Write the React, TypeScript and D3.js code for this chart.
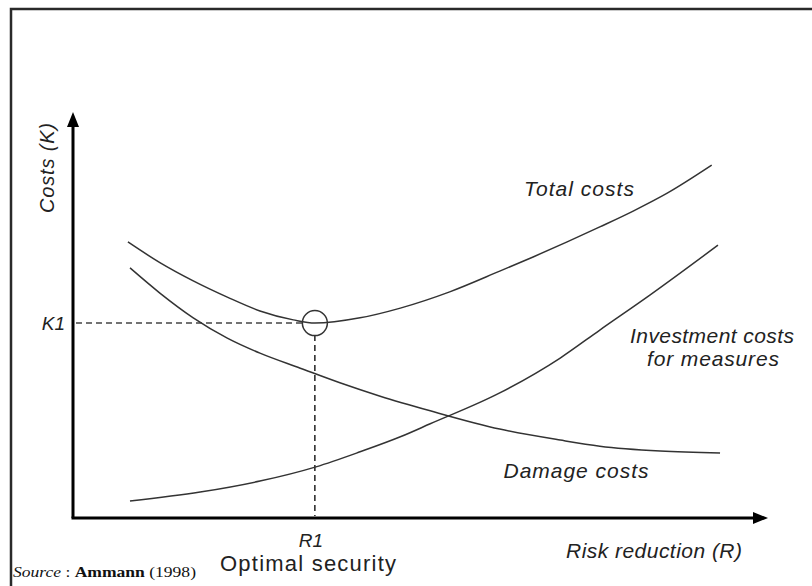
import React from 'react';
import * as d3 from 'd3';

// Curve samples (risk reduction 0-100, costs 0-100)
const totalR = [7.9, 12.5, 17.3, 22.2, 26.9, 31.7, 34.8, 41.3, 47.1, 54.2, 61.4, 66.2, 71.1, 75.8, 80.6, 85.5, 91.9];
const totalK = [68.0, 62.9, 58.4, 54.4, 51.0, 48.8, 48.0, 49.3, 51.7, 55.7, 60.8, 64.3, 68.0, 71.7, 75.6, 80.0, 86.9];

const damageR = [8.2, 12.5, 17.3, 22.2, 26.9, 32.7, 38.4, 44.2, 51.4, 61.4, 70.1, 75.8, 84.5, 93.1];
const damageK = [61.6, 55.4, 49.3, 44.3, 40.6, 36.9, 33.3, 30.0, 26.4, 21.9, 19.2, 17.7, 16.5, 16.0];

const investR = [8.2, 18.3, 26.9, 34.96, 41.3, 47.1, 51.4, 61.4, 70.1, 75.8, 83.0, 92.8];
const investK = [4.2, 6.4, 9.1, 12.6, 16.3, 20.0, 23.2, 30.8, 39.4, 46.3, 54.9, 67.2];

const optimumR = 34.8;
const optimumK = 48.0;

const W = 812;
const H = 586;
const origin = { x: 73, y: 518 };
const xEnd = 768;
const yEnd = 112;

const App: React.FC = () => {
  const x = d3.scaleLinear().domain([0, 100]).range([origin.x, xEnd]);
  const y = d3.scaleLinear().domain([0, 100]).range([origin.y, yEnd]);

  const line = d3.line<[number, number]>()
    .x(d => x(d[0]))
    .y(d => y(d[1]))
    .curve(d3.curveMonotoneX);

  const zip = (a: number[], b: number[]) => a.map((v, i) => [v, b[i]] as [number, number]);

  const ox = x(optimumR);
  const oy = y(optimumK);
  const curveStyle = { fill: 'none', stroke: '#333', strokeWidth: 1.5 };
  const labelFont = "'Liberation Sans', Arial, sans-serif";

  return (
    <svg width={W} height={H} style={{ position: 'absolute', left: 0, top: 0, background: '#fff' }}>
      {/* frame */}
      <path d={`M11,${H} L11,9 L${W},9`} fill="none" stroke="#2a2a2a" strokeWidth={2.5} />

      {/* axes */}
      <line x1={origin.x} y1={origin.y} x2={origin.x} y2={yEnd + 12} stroke="#000" strokeWidth={3} />
      <line x1={origin.x - 1.5} y1={origin.y} x2={xEnd - 12} y2={origin.y} stroke="#000" strokeWidth={3} />
      <path d={`M${origin.x},${yEnd} L${origin.x - 6},${yEnd + 15} L${origin.x + 6},${yEnd + 15} Z`} fill="#000" />
      <path d={`M${xEnd},${origin.y} L${xEnd - 15},${origin.y - 6} L${xEnd - 15},${origin.y + 6} Z`} fill="#000" />

      {/* guides */}
      <line x1={origin.x + 3} y1={oy} x2={ox - 12} y2={oy} stroke="#444" strokeWidth={1.5} strokeDasharray="6,4" />
      <line x1={ox} y1={oy + 12} x2={ox} y2={origin.y - 2} stroke="#222" strokeWidth={1.5} strokeDasharray="6,4" />

      {/* curves */}
      <path d={line(zip(totalR, totalK)) || ''} style={curveStyle} />
      <path d={line(zip(damageR, damageK)) || ''} style={curveStyle} />
      <path d={line(zip(investR, investK)) || ''} style={curveStyle} />
      <circle cx={ox} cy={oy} r={12.5} fill="none" stroke="#333" strokeWidth={1.5} />

      {/* labels */}
      <g fontFamily={labelFont} fontStyle="italic" fill="#222" fontSize={21} lengthAdjust="spacing">
        <text x={579} y={196} textAnchor="middle" textLength={110}>Total costs</text>
        <text x={712} y={343} textAnchor="middle" textLength={164}>Investment costs</text>
        <text x={713} y={366} textAnchor="middle" textLength={132}>for measures</text>
        <text x={576} y={478} textAnchor="middle" textLength={145}>Damage costs</text>
        <text x={654} y={558} textAnchor="middle" textLength={176}>Risk reduction (R)</text>
        <text x={ox - 4} y={547} textAnchor="middle" fontSize={19}>R1</text>
        <text x={65} y={330} textAnchor="end" fontSize={19}>K1</text>
        <text transform="translate(54,168) rotate(-90)" textAnchor="middle" fontSize={20} textLength={90}>Costs (K)</text>
      </g>
      <text x={308} y={571} textAnchor="middle" fontFamily={labelFont} fontSize={22} fill="#222"
        textLength={176} lengthAdjust="spacing">Optimal security</text>

      <text x={13} y={577} fontFamily="'Liberation Serif', 'Times New Roman', serif" fontSize={14} fill="#111"
        textLength={183} lengthAdjust="spacingAndGlyphs">
        <tspan fontStyle="italic">Source</tspan>
        <tspan> : </tspan>
        <tspan fontWeight="bold">Ammann</tspan>
        <tspan> (1998)</tspan>
      </text>
    </svg>
  );
};

export default App;
